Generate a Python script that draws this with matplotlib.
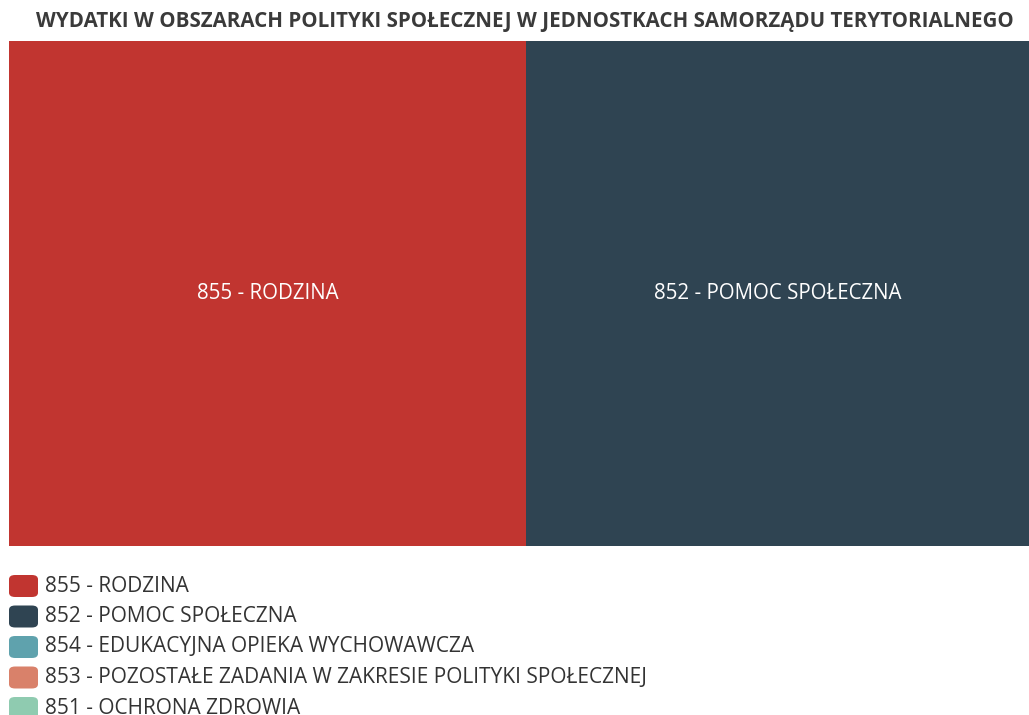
import numpy as np
import matplotlib
matplotlib.use("Agg")
import matplotlib.pyplot as plt
from matplotlib.patches import FancyBboxPatch

# expenditure shares shown as tiles (only the two largest areas are visible)
tiles = ["855 - RODZINA", "852 - POMOC SPOŁECZNA"]
shares = [50.7, 49.3]
tile_colors = ["#C13530", "#2F4452"]

legend_labels = [
    "855 - RODZINA",
    "852 - POMOC SPOŁECZNA",
    "854 - EDUKACYJNA OPIEKA WYCHOWAWCZA",
    "853 - POZOSTAŁE ZADANIA W ZAKRESIE POLITYKI SPOŁECZNEJ",
    "851 - OCHRONA ZDROWIA",
]
legend_colors = ["#C13530", "#2F4452", "#5FA2AD", "#D9816A", "#8FCBB0"]

TITLE = "WYDATKI W OBSZARACH POLITYKI SPOŁECZNEJ W JEDNOSTKACH SAMORZĄDU TERYTORIALNEGO"

plt.rcParams["font.family"] = ["Open Sans", "DejaVu Sans"]

W, H = 1029, 715
fig = plt.figure(figsize=(W / 100, H / 100), dpi=100)

ax = fig.add_axes([9 / W, 1 - 546 / H, 1 - 9 / W, (546 - 41) / H])
left = np.concatenate([[0], np.cumsum(shares)[:-1]])
ax.bar(left, 1, width=shares, align="edge", color=tile_colors, linewidth=0)
for x0, w, name in zip(left, shares, tiles):
    ax.text(x0 + w / 2, 0.5, name, ha="center", va="center",
            color="white", fontsize=14.8)
ax.set_xlim(0, sum(shares))
ax.set_ylim(0, 1)
ax.axis("off")

fig.text(525 / W, 1 - 22 / H, TITLE, ha="center", va="center",
         fontsize=14.8, fontweight="bold", color="#3a3a3a")

# legend drawn by hand: rounded swatches with labels below the map
# (the last row runs off the bottom edge of the canvas)
for i, (lab, col) in enumerate(zip(legend_labels, legend_colors)):
    yc = 586 + 30.5 * i
    sw = FancyBboxPatch((9 / W, 1 - (yc + 11) / H), 29 / W, 22 / H,
                        boxstyle="round,pad=0,rounding_size=0.006",
                        transform=fig.transFigure, color=col, linewidth=0)
    fig.patches.append(sw)
    fig.text(45 / W, 1 - yc / H, lab, ha="left", va="center",
             fontsize=15, color="#333333")

fig.savefig("out.png", dpi=100)
